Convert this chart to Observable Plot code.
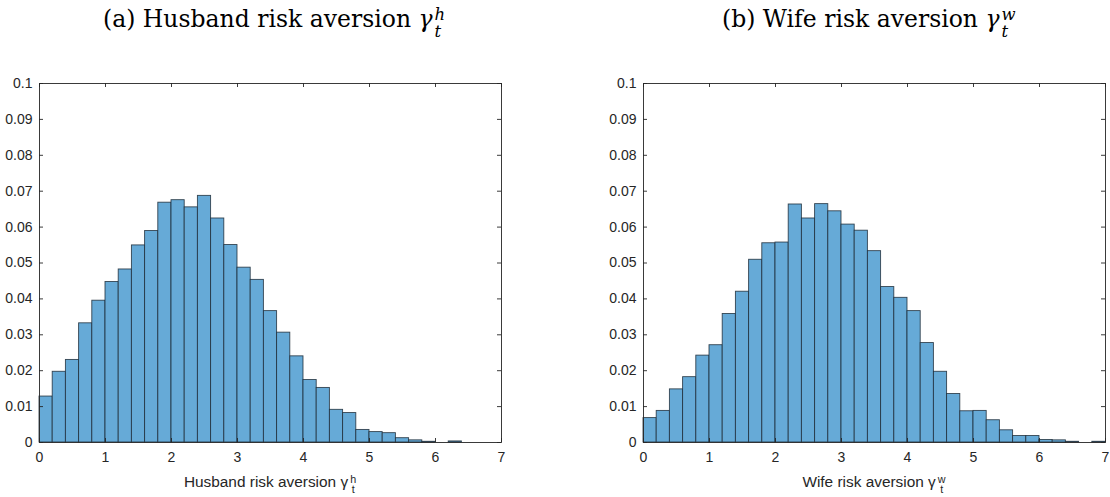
<!DOCTYPE html>
<html>
<head>
<meta charset="utf-8">
<script src="https://cdn.jsdelivr.net/npm/d3@7"></script>
<script src="https://cdn.jsdelivr.net/npm/@observablehq/plot@0.6"></script>
<style>
  html, body { margin: 0; padding: 0; background: #fff; }
  #wrap { position: relative; width: 1110px; height: 497px; overflow: hidden; background: #fff; }
  .title { position: absolute; top: 4px; font-family: "DejaVu Serif", "Liberation Serif", serif; font-size: 23.5px; color: #000; white-space: nowrap; line-height: 30px; }
  .xlab { position: absolute; top: 472px; font-family: "Liberation Sans", Arial, sans-serif; font-size: 15.4px; color: #262626; white-space: nowrap; line-height: 20px; text-align: center; }
  .ss { display: inline-flex; flex-direction: column; font-size: 0.7em; line-height: 1; vertical-align: 0.4em; margin-left: 2px; }
  .chart { position: absolute; top: 60px; }
  i { font-style: italic; }
</style>
</head>
<body>
<div id="wrap">
  <div class="title" id="t1" style="left:103px">(a) Husband risk aversion <i>γ</i><span class="ss"><i>h</i><i>t</i></span></div>
  <div class="title" id="t2" style="left:722px">(b) Wife risk aversion <i>γ</i><span class="ss"><i>w</i><i>t</i></span></div>
  <div class="chart" id="c1" style="left:0px"></div>
  <div class="chart" id="c2" style="left:555px"></div>
  <div class="xlab" id="x1" style="left:39px;width:462px">Husband risk aversion γ<span class="ss"><span>h</span><span>t</span></span></div>
  <div class="xlab" id="x2" style="left:643px;width:462px">Wife risk aversion γ<span class="ss"><span>w</span><span>t</span></span></div>
</div>
<script>
// Bin left edges (bin width 0.2)
const binStarts = [0,0.2,0.4,0.6,0.8,1.0,1.2,1.4,1.6,1.8,2.0,2.2,2.4,2.6,2.8,3.0,3.2,3.4,3.6,3.8,4.0,4.2,4.4,4.6,4.8,5.0,5.2,5.4,5.6,5.8,6.0,6.2,6.4,6.6,6.8];
const binWidth = 0.2;

// Husband risk aversion histogram (probability)
const husbandProb = [0.0128,0.0197,0.0230,0.0332,0.0395,0.0447,0.0482,0.0549,0.0589,0.0668,0.0675,0.0655,0.0687,0.0624,0.0550,0.0487,0.0453,0.0366,0.0306,0.0240,0.0174,0.0152,0.0091,0.0082,0.0035,0.0029,0.0026,0.0012,0.0006,0.0002,0.0000,0.0003,0.0000,0.0000,0.0000];

// Wife risk aversion histogram (probability)
const wifeProb = [0.0068,0.0088,0.0148,0.0182,0.0242,0.0271,0.0358,0.0420,0.0509,0.0555,0.0557,0.0663,0.0624,0.0664,0.0644,0.0607,0.0590,0.0533,0.0433,0.0403,0.0366,0.0277,0.0197,0.0135,0.0087,0.0088,0.0062,0.0034,0.0018,0.0018,0.0007,0.0006,0.0002,0.0000,0.0002];

const xTicks = [0,1,2,3,4,5,6,7];
const xTickLabels = ["0","1","2","3","4","5","6","7"];
const yTicks = [0,0.01,0.02,0.03,0.04,0.05,0.06,0.07,0.08,0.09,0.1];
const yTickLabels = ["0","0.01","0.02","0.03","0.04","0.05","0.06","0.07","0.08","0.09","0.1"];

const axisColor = "#262626";
const barFill = "#66aad7";
const barStroke = "#1c2a36";

function makeChart(values, marginLeft, marginRight) {
  const width = 555, height = 437;
  const marginTop = 23, marginBottom = 55;
  const frameW = width - marginLeft - marginRight;
  const frameH = height - marginTop - marginBottom;
  const data = binStarts.map((b, i) => ({x1: b, x2: b + binWidth, y: values[i]}));
  const tickLen = 4;
  return Plot.plot({
    width, height, marginLeft, marginRight, marginTop, marginBottom,
    style: {fontFamily: "Liberation Sans, Arial, sans-serif", fontSize: "14px", color: axisColor, background: "#fff", overflow: "visible"},
    x: {domain: [0, 7], ticks: xTicks, tickSize: 0, tickPadding: 10, label: null,
        tickFormat: d => xTickLabels[xTicks.indexOf(d)] ?? String(d)},
    y: {domain: [0, 0.1], ticks: yTicks, tickSize: 0, tickPadding: 7, label: null,
        tickFormat: d => yTickLabels[yTicks.indexOf(d)] ?? String(d)},
    marks: [
      Plot.rectY(data.filter(d => d.y > 0), {x1: "x1", x2: "x2", y: "y", fill: barFill, stroke: barStroke, strokeWidth: 0.9, strokeOpacity: 0.85}),
      Plot.frame({stroke: axisColor, strokeWidth: 0.9}),
      Plot.tickX(xTicks, {x: d => d, stroke: axisColor, strokeWidth: 0.9, insetTop: frameH - tickLen}),
      Plot.tickX(xTicks, {x: d => d, stroke: axisColor, strokeWidth: 0.9, insetBottom: frameH - tickLen}),
      Plot.tickY(yTicks, {y: d => d, stroke: axisColor, strokeWidth: 0.9, insetRight: frameW - tickLen}),
      Plot.tickY(yTicks, {y: d => d, stroke: axisColor, strokeWidth: 0.9, insetLeft: frameW - tickLen})
    ]
  });
}

document.getElementById("c1").appendChild(makeChart(husbandProb, 39, 54));
document.getElementById("c2").appendChild(makeChart(wifeProb, 88, 5));
</script>
</body>
</html>
